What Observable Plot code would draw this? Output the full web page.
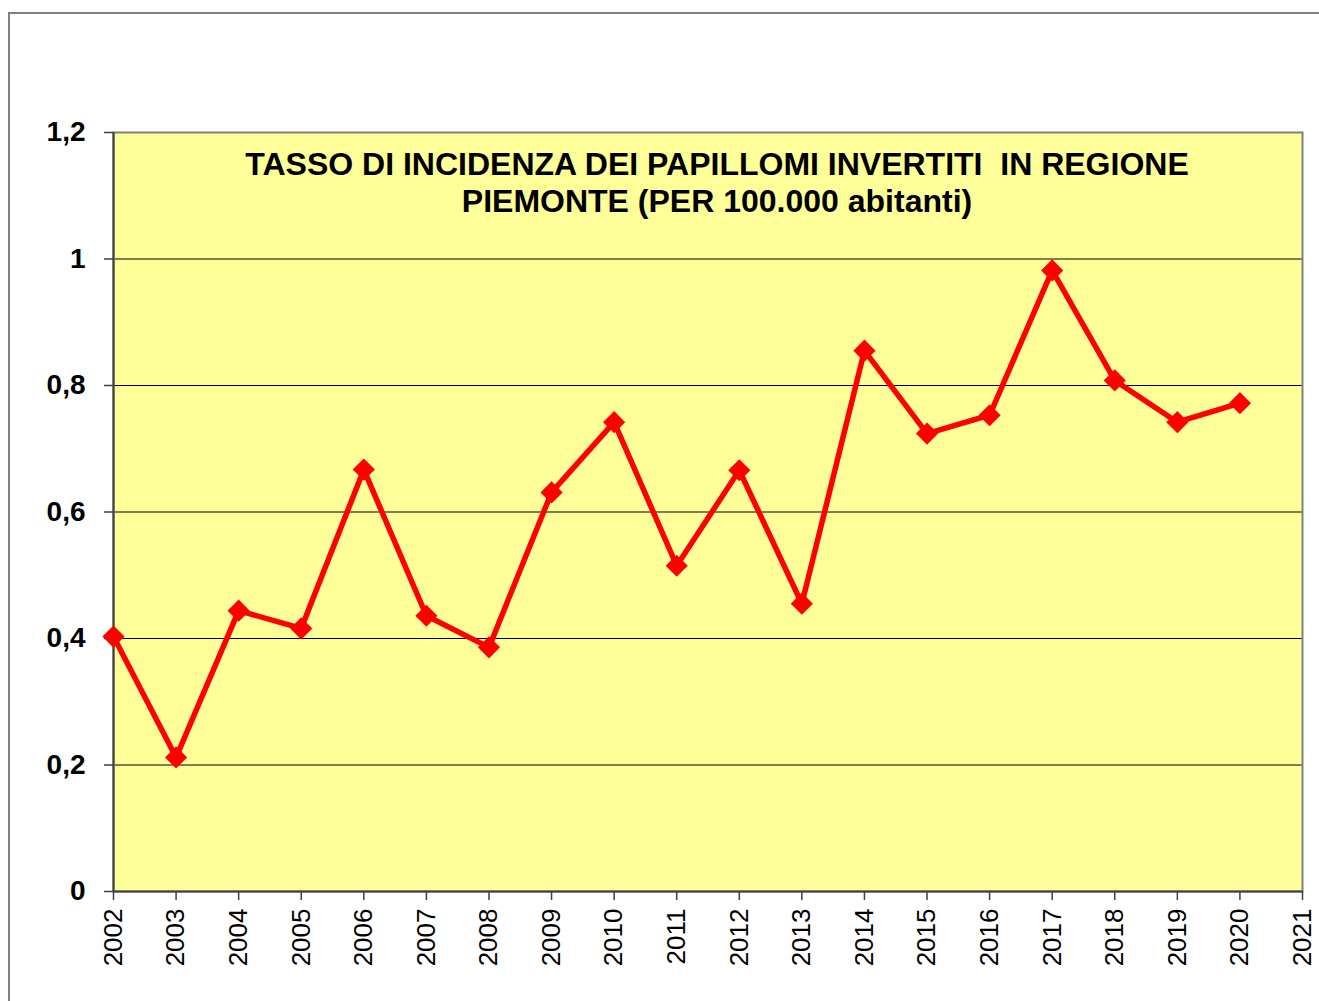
<!DOCTYPE html>
<html>
<head>
<meta charset="utf-8">
<script src="https://cdn.jsdelivr.net/npm/d3@7"></script>
<script src="https://cdn.jsdelivr.net/npm/@observablehq/plot@0.6"></script>
<style>
  html, body { margin: 0; padding: 0; background: #fff; overflow: hidden; }
  #wrap { position: relative; width: 1319px; height: 1001px; }
  #border { position: absolute; left: 8px; top: 12px; width: 1400px; height: 1100px; border-left: 2px solid #808080; border-top: 2px solid #808080; }
  #chart { position: absolute; left: 0; top: 0; }
</style>
</head>
<body>
<div id="wrap"><div id="border"></div><div id="chart"></div></div>
<script>
const years = [2002, 2003, 2004, 2005, 2006, 2007, 2008, 2009, 2010, 2011, 2012, 2013, 2014, 2015, 2016, 2017, 2018, 2019, 2020];
const rates = [0.403, 0.212, 0.444, 0.416, 0.667, 0.436, 0.386, 0.631, 0.742, 0.515, 0.666, 0.455, 0.855, 0.724, 0.753, 0.982, 0.808, 0.742, 0.772];
const xTicks = [2002, 2003, 2004, 2005, 2006, 2007, 2008, 2009, 2010, 2011, 2012, 2013, 2014, 2015, 2016, 2017, 2018, 2019, 2020, 2021];
const yTicks = [0, 0.2, 0.4, 0.6, 0.8, 1, 1.2];
const titleText = "TASSO DI INCIDENZA DEI PAPILLOMI INVERTITI  IN REGIONE\nPIEMONTE (PER 100.000 abitanti)";

const data = years.map((y, i) => ({year: y, rate: rates[i]}));
const fmt = d => String(+d.toFixed(1)).replace(".", ",");

const chart = Plot.plot({
  width: 1319,
  height: 1001,
  marginLeft: 113,
  marginRight: 17,
  marginTop: 132,
  marginBottom: 110,
  style: {fontFamily: "'Liberation Sans', Arial, sans-serif", background: "transparent", color: "#000"},
  x: {domain: [2002, 2021], ticks: xTicks, tickFormat: d => String(d), label: null},
  y: {domain: [0, 1.2], ticks: yTicks, tickFormat: fmt, label: null},
  marks: [
    Plot.frame({fill: "#FFFF99", stroke: null}),
    Plot.ruleY(yTicks.filter(d => d > 0 && d < 1.2), {stroke: "#000", strokeWidth: 1}),
    Plot.frame({stroke: "#808080", strokeWidth: 2, fill: null}),
    Plot.axisX({ticks: xTicks, tickFormat: d => String(d), tickRotate: -90, tickSize: 9, tickPadding: 8, fontSize: 26, label: null, stroke: "#404040", strokeWidth: 1.5}),
    Plot.axisY({ticks: yTicks, tickFormat: fmt, tickSize: 9, tickPadding: 19, fontSize: 28, fontWeight: "bold", label: null, stroke: "#404040", strokeWidth: 1.5}),
    Plot.ruleX([2002], {stroke: "#404040", strokeWidth: 2}),
    Plot.ruleY([0], {stroke: "#404040", strokeWidth: 2}),
    Plot.text([titleText], {frameAnchor: "top", dy: 16, dx: 9, lineAnchor: "top", lineHeight: 1.16, fontSize: 32, fontWeight: "bold", fill: "#000"}),
    Plot.line(data, {x: "year", y: "rate", stroke: "#FF0000", strokeWidth: 5.5, strokeLinejoin: "miter"}),
    Plot.dot(data, {x: "year", y: "rate", symbol: "diamond2", r: 10, fill: "#FF0000", stroke: null})
  ]
});
document.getElementById("chart").appendChild(chart);
</script>
</body>
</html>
